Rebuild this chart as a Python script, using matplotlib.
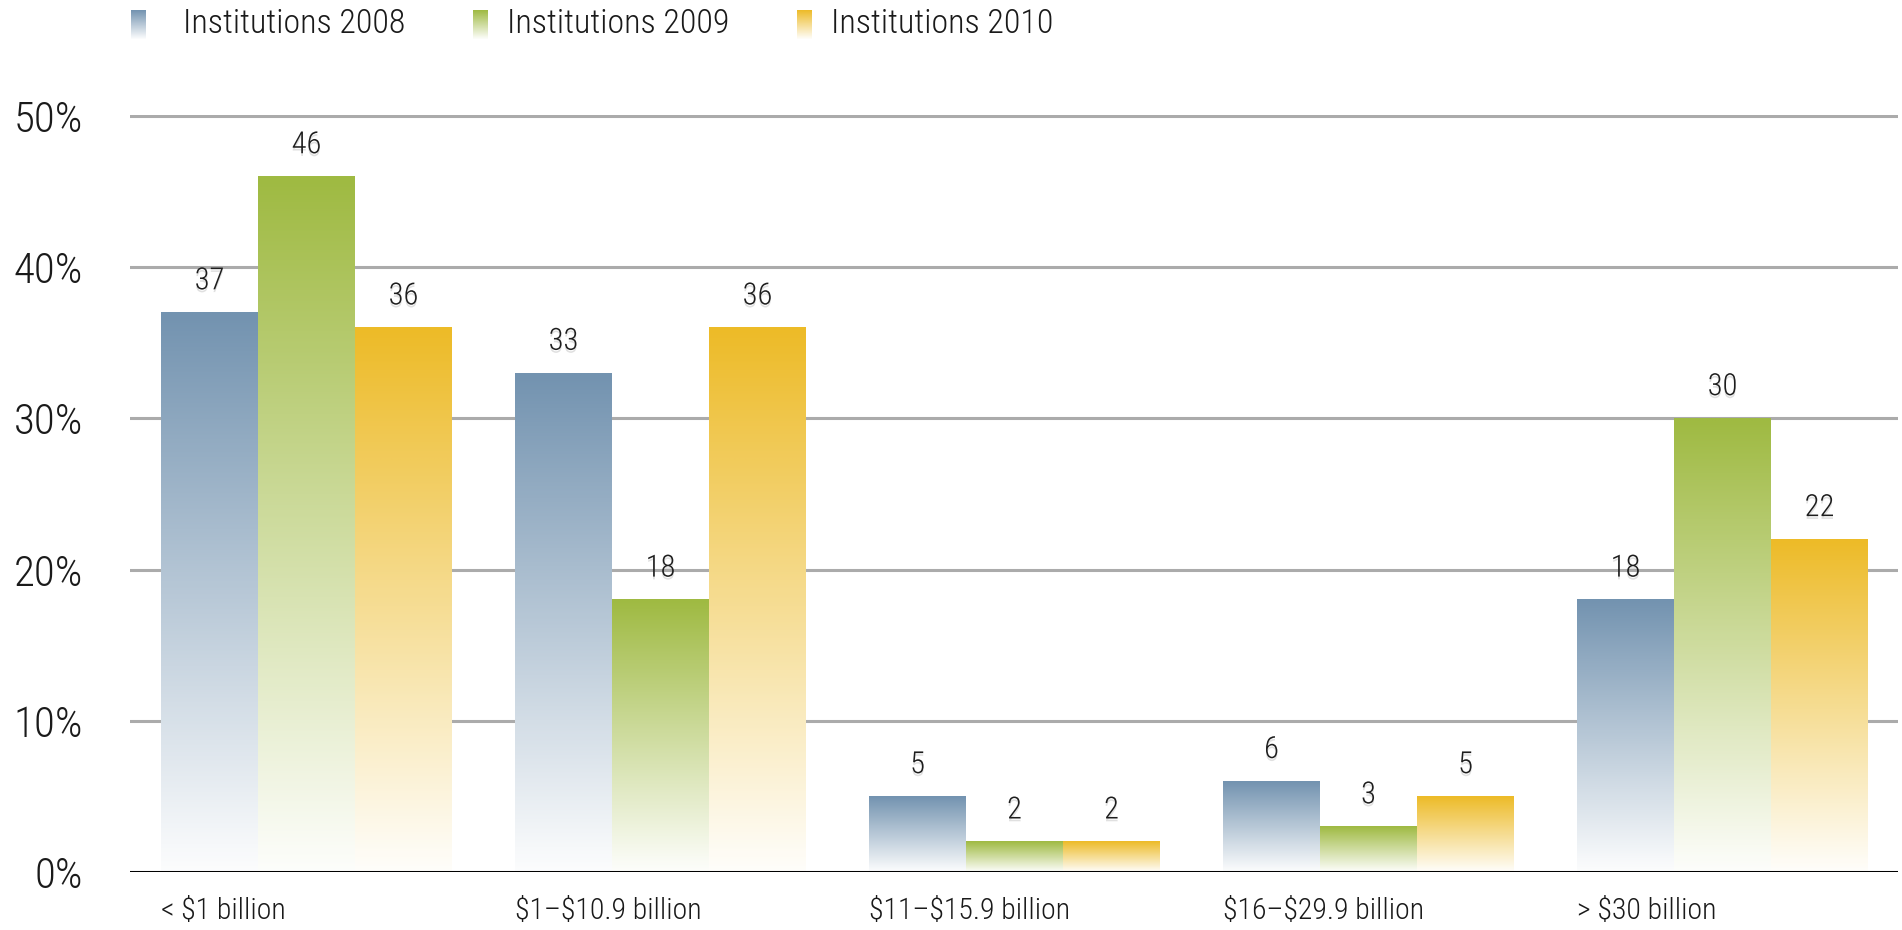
import numpy as np
import matplotlib.pyplot as plt
import matplotlib.patheffects as pe
from matplotlib.colors import LinearSegmentedColormap

plt.rcParams['font.family'] = ['Roboto Condensed', 'DejaVu Sans']
plt.rcParams['font.weight'] = 'light'
plt.rcParams['text.parse_math'] = False

categories = ["< $1 billion", "$1\u2013$10.9 billion", "$11\u2013$15.9 billion",
              "$16\u2013$29.9 billion", "> $30 billion"]
series_names = ["Institutions 2008", "Institutions 2009", "Institutions 2010"]
inst_2008 = [37, 33, 5, 6, 18]
inst_2009 = [46, 18, 2, 3, 30]
inst_2010 = [36, 36, 2, 5, 22]
y_ticks = [0, 10, 20, 30, 40, 50]

series = [inst_2008, inst_2009, inst_2010]
top_colors = ["#7393b0", "#9fba42", "#edbb28"]


def fade_cmap(color):
    # white at the bottom, full colour at the top
    return LinearSegmentedColormap.from_list("fade", ["#ffffff", color])


grad = np.linspace(0.02, 1, 256).reshape(-1, 1)

fig = plt.figure(figsize=(19.02, 9.30), dpi=100)
ax = fig.add_axes([130 / 1902, 58 / 930, 1768 / 1902, 757 / 930])

width = 0.274
x = np.arange(len(categories))

shadow = [pe.withSimplePatchShadow(offset=(0, -2), shadow_rgbFace="#999999",
                                   alpha=0.3)]

for j, (vals, col) in enumerate(zip(series, top_colors)):
    cmap = fade_cmap(col)
    bars = ax.bar(x + width * (j + 0.5), vals, width, color="none", zorder=3)
    for b, v in zip(bars, vals):
        x0, x1 = b.get_x(), b.get_x() + b.get_width()
        ax.imshow(grad, cmap=cmap, origin="lower", aspect="auto",
                  extent=(x0, x1, 0, v), zorder=3, vmin=0, vmax=1)
        ax.text((x0 + x1) / 2, v + 2.1, f"{v}", ha="center", va="center",
                fontsize=22, color="#1e1e1e", zorder=5, path_effects=shadow)

ax.set_xlim(-0.0876, -0.0876 + 1768 / 354)
ax.set_ylim(0, 757 / 15.12)

for t in y_ticks[1:]:
    ax.axhline(t, color="#ababab", lw=2.2, zorder=1)
ax.axhline(0, color="black", lw=2.2, zorder=6)

for s in ax.spines.values():
    s.set_visible(False)

ax.set_yticks(y_ticks)
ax.set_yticklabels([f"{t}%" for t in y_ticks])
ax.tick_params(axis="y", length=0, pad=34, labelsize=31, labelcolor="#1a1a1a")

ax.set_xticks(x)
ax.set_xticklabels(categories, ha="left")
ax.tick_params(axis="x", length=0, pad=18, labelsize=21.5, labelcolor="#1a1a1a")

# legend with gradient swatches
leg_x = [131, 473, 797]
leg_text_x = [183, 507, 831]
for lx, tx, name, col in zip(leg_x, leg_text_x, series_names, top_colors):
    sw = fig.add_axes([lx / 1902, 1 - 39 / 930, 15 / 1902, 29 / 930])
    sw.imshow(grad, cmap=fade_cmap(col), origin="lower", aspect="auto",
              vmin=0, vmax=1)
    sw.axis("off")
    fig.text(tx / 1902, 1 - 24 / 930, name, ha="left", va="center",
             fontsize=24.5, color="#1a1a1a")

fig.savefig("out.png", dpi=100)
